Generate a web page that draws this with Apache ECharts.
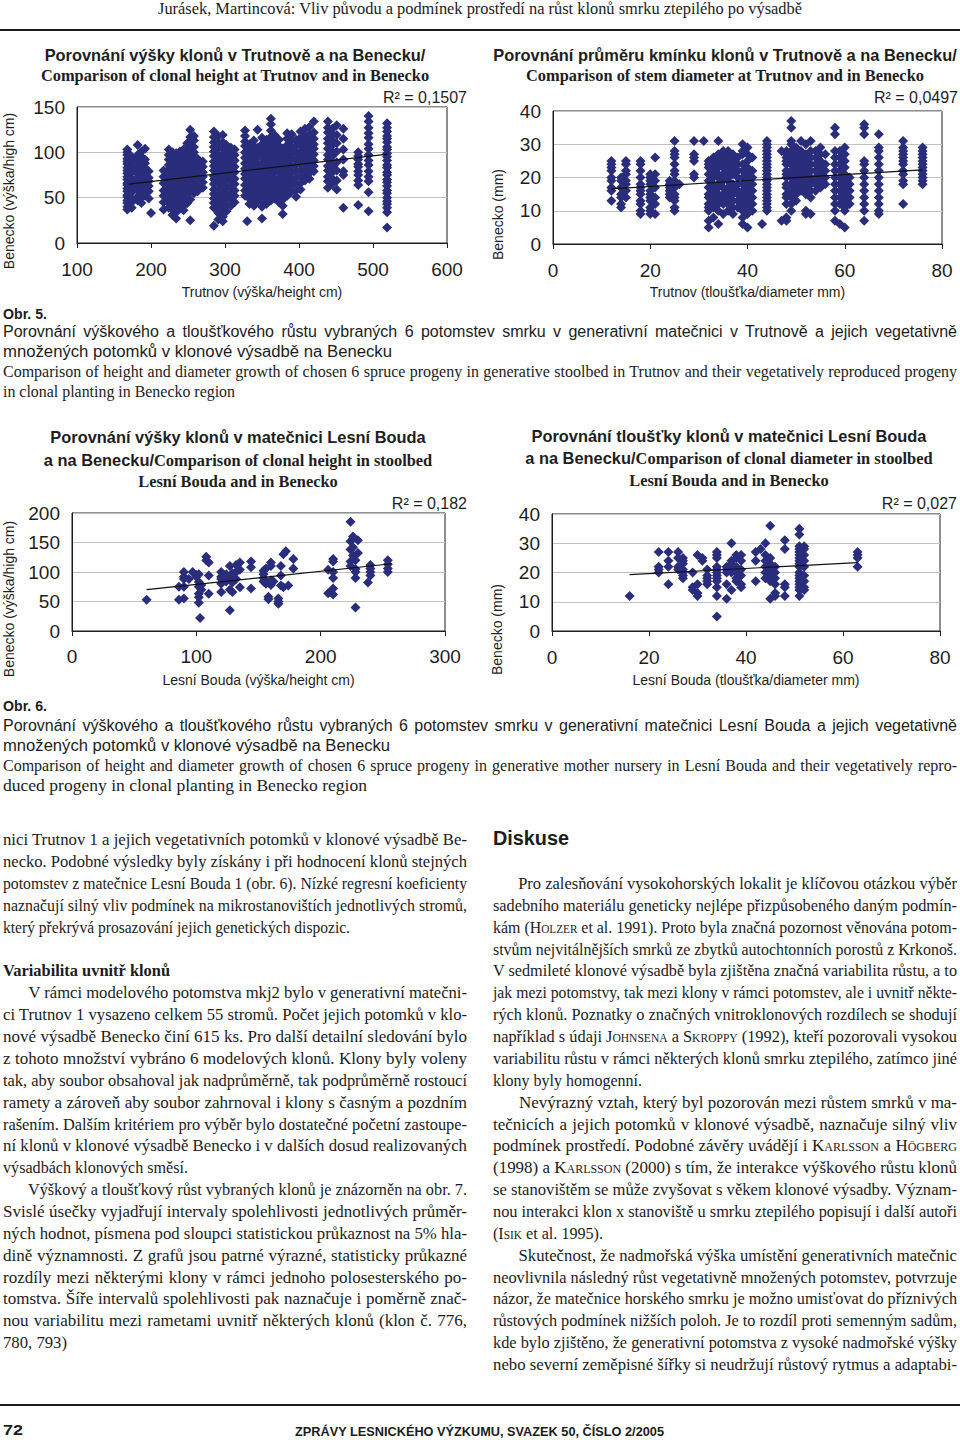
<!DOCTYPE html>
<html>
<head>
<meta charset="utf-8">
<script src="https://cdn.jsdelivr.net/npm/echarts/dist/echarts.min.js"></script>
<style>
  html, body { margin:0; padding:0; background:#fff; }
  #page { position:relative; width:960px; height:1440px; overflow:hidden; background:#fff; }
  #chart { position:absolute; left:0; top:0; width:960px; height:1440px; }
  .ln { position:absolute; white-space:nowrap; color:#1c1c1c; transform-origin:0 50%; line-height:1.15; }
  .serif { font-family:'Liberation Serif','Times New Roman',serif; font-size:17px; }
  .cap-en { font-family:'Liberation Serif','Times New Roman',serif; font-size:16px; }
  .sans { font-family:'Liberation Sans',Arial,sans-serif; font-size:16px; }
  .bold { font-weight:bold; }
  .ind { padding-left:26px; }
  .sc { font-variant:small-caps; }
  .rule { position:absolute; left:0; width:960px; height:2px; background:#1c1c1c; }
</style>
</head>
<body>
<div id="page">
  <div id="chart"></div>
  <div class="rule" style="top:29px"></div>
  <div class="rule" style="top:1404px"></div>
</div>
<script>
// ---------------- DATA ----------------
// Obr. 5 left: Trutnov height (x) vs Benecko height (y); columns [x, [y...]]
const trutnovHeightCols = [
 [168,[37,40,44,47,51,53,57,60,64,66,70,73,77,80,83,87,90,93,97,100,103]],
 [174,[39,45,49,56,62,68,71,78,85,91,95]],
 [182,[47,51,58,63,67,72,76,81,84,89,93,97,108]],
 [187,[44,50,54,59,62,66,71,75,79,86,90,95,101]],
 [192,[52,56,61,65,70,74,78,83,88,92,104]],
 [197,[49,57,63,68,72,79]],
 [200,[33]],
 [217,[37,45,52,58,66,73,80]],
 [224,[39,44,49,55,60,64,69,75,81,86,92,97,103]],
 [229,[31,37,41,47,53,58,62,68,73,77,83,89,94,100]],
 [234,[27,34,40,45,51,56,62,66,71,77,82,88,93,99]],
 [239,[38,43,49,54,60,65,70,74,80,86,91,96,101]],
 [244,[36,41,46,52,57,63,68,73,79,84,90,95,103]],
 [249,[44,50,55,61,66,72,77,82,88,93,99,105,110]],
 [253,[25,48,57,64,71,78,86,94,101,109,117,125]],
 [258,[55,60,66,72,77,83,89,95,100,106,113,118]],
 [263,[57,63,69,75,80,86,93]],
 [270,[61,67,73,78,84,90]],
 [285,[19,39,44,49,54,59,65,70,74,80,85,90,96,101,106,111,117,123]],
 [291,[26,33,39,46,53,59,66,72,79,85,92,98,105,111,118]],
 [297,[24,29,36,43,50,57,63,70,77,83,90,97,104,111,119]],
 [302,[35,42,49,55,62,69,75,82,89,95,101,108]],
 [308,[41,48,55,61,68,74,81,87,94,100,105]],
 [313,[45,52,58,65,71,78,84,91,97,103]],
 [327,[52,58,64,71,76,82,88,94,100,107,112,118,124]],
 [330,[24]],
 [333,[43,49,55,61,67,73,80,86,91,97,104,109]],
 [339,[41,47,54,59,65,71,78,83,90,95,102,107,113]],
 [344,[46,51,57,63,69,76,81,87,94,99,105,125]],
 [350,[27,40,46,53,61,67,74,81,88,96,102,109,116]],
 [356,[43,50,58,64,71,78,85,92,99,106,114]],
 [362,[47,54,61,69,76,82,90,96,103,111,117,124,131,137]],
 [367,[49,56,63,70,78,84,91,98,105,112,119]],
 [373,[45,51,58,66,72,79,86,93,100,107,114]],
 [378,[32,41,48,55,63,69,76,83,90,97,104]],
 [384,[52,59,66,73,80,87,94,101,108,115,121]],
 [390,[57,64,71,78,85,92,99,106,113,120]],
 [396,[51,58,65,72,79,86,93,100,107,114]],
 [402,[59,66,73,80,88,95,101,109,116,123]],
 [408,[69,75,82,88,93,100,106,111,118,126]],
 [414,[71,77,84,90,95,102,107,113,120,128]],
 [420,[79,85,91,98,104,109,115,122,134]],
 [439,[61,68,73,80,85,92,97,104,110,115,122,127,134]],
 [445,[65,71,78,84,89,96,101,108,113,120,126]],
 [451,[59,69,80,89,101,110,119,130]],
 [460,[39,75,79,92,103,115,126]],
 [480,[42,64,69,75,79,84,87,92,96,100]],
 [494,[35,56,68,73,79,86,91,97,104,109,116,121,127,134,140]],
 [519,[17,34,39,43,46,50,55,58,63,67,70,75,78,83,86,91,95,99,103,106,111,115,118,123,127,132]]
];
const trutnovHeightTrend = [[170,65],[520,98]];

// Obr. 5 right: Trutnov diameter (x) vs Benecko diameter (y)
const trutnovDiamCols = [
 [12,[13,16,17,19,20,22,23,24,25]],
 [14,[11,12,14,15,17,19,20]],
 [15,[14,16,18,19,21,22,24,25]],
 [18,[9,10,12,13,15,16,17,18,20,22,24,25]],
 [20,[9,10,11,13,14,15,16,18,19,20,21]],
 [21,[9,12,14,17,19,21,26]],
 [24,[14,15,16,17,18,19]],
 [25,[10,11,13,14,15,17,18,19,21,22,24,26,27,28,31]],
 [26,[18]],
 [29,[20,21,25,26,27,31]],
 [31,[31]],
 [32,[5,7,10,11,12,14,15,17,19,21,23,24,25]],
 [33,[8,11,13,14,16,18,20,22,23,25,26]],
 [34,[6,10,12,14,15,17,18,20,21,23,24,26,27,31]],
 [35,[9,12,13,15,17,19,21,23,25,27,28]],
 [36,[10,12,14,16,17,19,20,22,24,26,28]],
 [37,[9,11,13,15,17,18,21,23,25,27]],
 [38,[11,13,15,16,18,20,22,24,26]],
 [39,[6,8,10,12,14,16,18,20,22,24,27,28,30]],
 [40,[5,9,11,13,15,17,19,21,23,25,27,29]],
 [41,[10,12,14,16,18,20,22,26]],
 [43,[6]],
 [44,[10,11,12,13,14,15,16,17,18,19,20,21,22,23,24,25,26,27,28,29,30,31]],
 [47,[7,28]],
 [48,[7,8,12,14,15,17,18,20,21,22,24,25,26,27,28]],
 [49,[10,12,14,16,18,20,22,24,26,28,30,31,35,37]],
 [50,[13,15,17,19,21,23,25,27,29]],
 [51,[16,18,20,22,24,26,28,31]],
 [52,[9,10,15,17,19,21,23,25,27,30]],
 [53,[9,14,16,18,20,22,24,26,28,31]],
 [54,[16,18,19,20,22,24,26,28]],
 [55,[17,19,21,23,25,27,29]],
 [56,[18,20,22,24,27]],
 [58,[7,10,12,14,16,18,20,22,24,26,28,33,35]],
 [59,[6,12,14,16,18,20,22,24,26,28]],
 [60,[5,10,11,13,15,17,19,21,23,25,27,29]],
 [61,[12,14,16,18,20]],
 [64,[7,10,12,14,16,18,20,22,24,25,33,35,36]],
 [67,[9,10,12,14,16,18,20,22,24,26,28,29,33]],
 [72,[12,18,19,21,22,24,25,26,27,28,29,31]],
 [76,[18,19,20,21,22,23,24,25,26,27,28,29]]
];
const trutnovDiamTrend = [[12,16.6],[76,22.3]];

// Obr. 6 left: Lesní Bouda height (x) vs Benecko height (y)
const boudaHeightPts = [
 [60,53],[86,75],[86,53],[90,100],[90,92],[90,88],[90,75],[90,55],[94,88],[97,100],
 [100,95],[100,92],[102,96],[102,83],[102,75],[102,63],[102,57],[102,48],[103,22],[104,78],
 [104,70],[108,126],[108,120],[110,116],[110,94],[110,63],[120,100],[120,92],[120,88],[120,80],
 [120,66],[124,96],[124,84],[127,110],[127,92],[127,70],[127,35],[129,98],[129,82],[129,66],
 [132,112],[132,100],[132,88],[135,116],[135,104],[135,74],[144,118],[144,108],[144,72],[154,102],
 [154,96],[154,90],[154,84],[156,106],[156,80],[158,58],[158,54],[160,116],[160,110],[160,86],
 [160,78],[162,84],[166,55],[166,50],[166,46],[168,110],[168,94],[168,77],[170,130],[170,74],
 [172,135],[174,77],[178,122],[178,106],[206,104],[206,64],[208,66],[210,122],[210,118],[210,100],
 [210,90],[210,72],[210,62],[224,185],[224,152],[224,138],[224,118],[224,110],[226,160],[226,142],
 [226,128],[228,120],[228,105],[228,100],[228,90],[228,40],[230,132],[230,154],[238,82],[240,112],
 [240,106],[240,100],[240,94],[254,120],[254,113],[254,106],[254,100]
];
const boudaHeightTrend = [[60,70],[257,114]];

// Obr. 6 right: Lesní Bouda diameter (x) vs Benecko diameter (y)
const boudaDiamPts = [
 [16,12],[22,27],[22,22],[22,21],[22,20],[24,27],[24,24],[24,22],[24,16],[26,27],
 [26,25],[26,22],[26,21],[27,25],[27,24],[27,23],[27,21],[27,20],[27,19],[27,18],
 [29,20],[29,15],[29,14],[30,26],[30,16],[30,13],[30,12],[31,25],[31,24],[32,21],
 [32,19],[32,18],[32,17],[32,16],[34,27],[34,26],[34,25],[34,22],[34,21],[34,20],
 [34,19],[34,18],[34,17],[34,15],[34,12],[34,5],[36,22],[36,21],[36,20],[36,16],
 [36,11],[37,30],[37,24],[37,23],[37,22],[37,21],[37,20],[37,14],[38,26],[38,25],
 [38,22],[38,20],[38,18],[38,17],[39,26],[39,24],[39,21],[39,19],[39,16],[39,15],
 [42,27],[42,24],[42,17],[43,28],[44,30],[44,26],[44,24],[44,22],[44,20],[44,18],
 [45,36],[45,25],[45,23],[45,21],[45,19],[45,17],[45,11],[46,22],[46,20],[46,18],
 [46,16],[46,13],[46,12],[48,31],[48,28],[48,16],[48,15],[48,12],[51,35],[51,33],
 [51,29],[51,28],[51,27],[51,26],[51,25],[51,24],[51,23],[51,22],[51,20],[51,19],
 [51,18],[51,17],[51,16],[51,15],[51,14],[51,12],[52,29],[52,28],[52,26],[52,24],
 [52,22],[52,19],[52,17],[52,15],[52,14],[63,27],[63,26],[63,25],[63,22]
];
const boudaDiamTrend = [[16,19.3],[63,23.4]];

const rSquared = ['R² = 0,1507', 'R² = 0,0497', 'R² = 0,182', 'R² = 0,027'];

// ---------------- CHART ----------------
const SANS = "'Liberation Sans', Arial, sans-serif";
const SERIF = "'Liberation Serif', 'Times New Roman', serif";
const INK = '#1e1e1e';
const DOT = '#2a2d7c';

function flat(cols){ const out=[]; cols.forEach(c => c[1].forEach(y => out.push([c[0], y]))); return out; }

const grids = [
  {left:77,  top:107, width:370, height:136},
  {left:553, top:111, width:389, height:133},
  {left:72,  top:513, width:373, height:118},
  {left:552, top:514, width:388, height:117}
].map(g => Object.assign({show:true, borderColor:INK, borderWidth:1, backgroundColor:'transparent'}, g));

function xAx(i, min, max, step, name, gap, margin){
  return {gridIndex:i, type:'value', min:min, max:max, interval:step, name:name,
    nameLocation:'middle', nameGap:gap,
    nameTextStyle:{fontFamily:SANS, fontSize:14, color:INK},
    axisLine:{show:true, onZero:false, lineStyle:{color:INK, width:1}},
    axisTick:{show:true, length:5, lineStyle:{color:INK}},
    axisLabel:{fontFamily:SANS, fontSize:19, color:INK, margin:margin},
    splitLine:{show:false}};
}
function yAx(i, min, max, step, name, gap, shift){
  return {gridIndex:i, type:'value', min:min, max:max, interval:step, name:name,
    nameLocation:'middle', nameGap:gap,
    nameTextStyle:{fontFamily:SANS, fontSize:14, color:INK, padding:[0, 2*shift, 0, 0]},
    axisLine:{show:true, onZero:false, lineStyle:{color:INK, width:1}},
    axisTick:{show:false},
    axisLabel:{fontFamily:SANS, fontSize:19, color:INK, margin:12},
    splitLine:{show:true, lineStyle:{color:'#c2c2c2', width:1}}};
}
function scatter(i, data, size){
  return {type:'scatter', xAxisIndex:i, yAxisIndex:i, data:data, symbol:'diamond',
    symbolSize:size, itemStyle:{color:DOT, opacity:1}, silent:true, animation:false};
}
function trend(i, data){
  return {type:'line', xAxisIndex:i, yAxisIndex:i, data:data, symbol:'none', z:5,
    lineStyle:{color:'#111', width:1.2}, silent:true, animation:false};
}
function txt(x, y, text, opts){
  return {type:'text', x:x, y:y, silent:true, style:Object.assign({text:text, fill:INK,
    align:'center', verticalAlign:'middle', textAlign:'center', textVerticalAlign:'middle'}, opts)};
}
const sansB = {fontFamily:SANS, fontWeight:'bold', fontSize:16.4};
const serifB = {fontFamily:SERIF, fontWeight:'bold', fontSize:16.4};
const mixed = (a, b) => ({text:'{s|' + a + '}{r|' + b + '}', rich:{s:Object.assign({}, sansB, {fill:INK}), r:Object.assign({}, serifB, {fill:INK})}});
const rStyle = {fontFamily:SANS, fontSize:16, align:'right', textAlign:'right'};

const option = {
  animation:false,
  grid:grids,
  xAxis:[
    xAx(0, 100, 600, 100, 'Trutnov (výška/height cm)', 42, 17),
    xAx(1, 0, 80, 20, 'Trutnov (tloušťka/diameter mm)', 41, 17),
    xAx(2, 0, 300, 100, 'Lesní Bouda (výška/height cm)', 42, 16),
    xAx(3, 0, 80, 20, 'Lesní Bouda (tloušťka/diameter mm)', 42, 17)
  ],
  yAxis:[
    yAx(0, 0, 150, 50, 'Benecko (výška/high cm)', 61, 16),
    yAx(1, 0, 40, 10, 'Benecko (mm)', 48, 37),
    yAx(2, 0, 200, 50, 'Benecko (výška/high cm)', 56, 27),
    yAx(3, 0, 40, 10, 'Benecko (mm)', 48, 57)
  ],
  series:[
    scatter(0, flat(trutnovHeightCols), 10), trend(0, trutnovHeightTrend),
    scatter(1, flat(trutnovDiamCols), 10), trend(1, trutnovDiamTrend),
    scatter(2, boudaHeightPts, 10), trend(2, boudaHeightTrend),
    scatter(3, boudaDiamPts, 10), trend(3, boudaDiamTrend)
  ],
  graphic:[
    txt(235, 55, 'Porovnání výšky klonů v Trutnově a na Benecku/', sansB),
    txt(235, 75, 'Comparison of clonal height at Trutnov and in Benecko', serifB),
    txt(467, 97, rSquared[0], rStyle),
    txt(725, 55, 'Porovnání průměru kmínku klonů v Trutnově a na Benecku/', sansB),
    txt(725, 75, 'Comparison of stem diameter at Trutnov and in Benecko', serifB),
    txt(958, 97, rSquared[1], rStyle),
    txt(238, 437, 'Porovnání výšky klonů v matečnici Lesní Bouda', sansB),
    txt(238, 460, '', mixed('a na Benecku/', 'Comparison of clonal height in stoolbed')),
    txt(238, 481, 'Lesní Bouda and in Benecko', serifB),
    txt(467, 503, rSquared[2], rStyle),
    txt(729, 436, 'Porovnání tloušťky klonů v matečnici Lesní Bouda', sansB),
    txt(729, 458, '', mixed('a na Benecku/', 'Comparison of clonal diameter in stoolbed')),
    txt(729, 480, 'Lesní Bouda and in Benecko', serifB),
    txt(957, 503, rSquared[3], rStyle)
  ]
};
const chart = echarts.init(document.getElementById('chart'), null, {renderer:'svg', width:960, height:1440});
chart.setOption(option);

// ---------------- PAGE TEXT ----------------
// [x, yCenter, width, mode(j=justify, s=scale to width), classes, html]
const LH = 21.87, Y0 = 840;
const L = (i) => Y0 + i * LH;
const lines = [
  [158, 9, 644, 'j', 'serif hdr', 'Jurásek, Martincová: Vliv původu a podmínek prostředí na růst klonů smrku ztepilého po výsadbě'],
  [3, 314, 44, 's', 'sans bold', 'Obr. 5.'],
  [3, 332, 954, 'j', 'sans', 'Porovnání výškového a tloušťkového růstu vybraných 6 potomstev smrku v generativní matečnici v Trutnově a jejich vegetativně'],
  [3, 352, 389, 's', 'sans', 'množených potomků v klonové výsadbě na Benecku'],
  [3, 372, 954, 'j', 'cap-en', 'Comparison of height and diameter growth of chosen 6 spruce progeny in generative stoolbed in Trutnov and their vegetatively reproduced progeny'],
  [3, 392, 232, 's', 'cap-en', 'in clonal planting in Benecko region'],
  [3, 706, 44, 's', 'sans bold', 'Obr. 6.'],
  [3, 726, 954, 'j', 'sans', 'Porovnání výškového a tloušťkového růstu vybraných 6 potomstev smrku v generativní matečnici Lesní Bouda a jejich vegetativně'],
  [3, 746, 387, 's', 'sans', 'množených potomků v klonové výsadbě na Benecku'],
  [3, 766, 954, 'j', 'cap-en', 'Comparison of height and diameter growth of chosen 6 spruce progeny in generative mother nursery in Lesní Bouda and their vegetatively repro-'],
  [3, 786, 364, 's', 'cap-en', 'duced progeny in clonal planting in Benecko region'],
  // left column
  [3, L(0), 464, 'j', 'serif', 'nici Trutnov 1 a jejich vegetativních potomků v klonové výsadbě Be-'],
  [3, L(1), 464, 'j', 'serif', 'necko. Podobné výsledky byly získány i při hodnocení klonů stejných'],
  [3, L(2), 464, 'j', 'serif', 'potomstev z matečnice Lesní Bouda 1 (obr. 6). Nízké regresní koeficienty'],
  [3, L(3), 464, 'j', 'serif', 'naznačují silný vliv podmínek na mikrostanovištích jednotlivých stromů,'],
  [3, L(4), 347, 's', 'serif', 'který překrývá prosazování jejich genetických dispozic.'],
  [3, L(6), 167, 's', 'serif bold', 'Variabilita uvnitř klonů'],
  [3, L(7), 464, 'j', 'serif ind', 'V rámci modelového potomstva mkj2 bylo v generativní matečni-'],
  [3, L(8), 464, 'j', 'serif', 'ci Trutnov 1 vysazeno celkem 55 stromů. Počet jejich potomků v klo-'],
  [3, L(9), 464, 'j', 'serif', 'nové výsadbě Benecko činí 615 ks. Pro další detailní sledování bylo'],
  [3, L(10), 464, 'j', 'serif', 'z tohoto množství vybráno 6 modelových klonů. Klony byly voleny'],
  [3, L(11), 464, 'j', 'serif', 'tak, aby soubor obsahoval jak nadprůměrně, tak podprůměrně rostoucí'],
  [3, L(12), 464, 'j', 'serif', 'ramety a zároveň aby soubor zahrnoval i klony s časným a pozdním'],
  [3, L(13), 464, 'j', 'serif', 'rašením. Dalším kritériem pro výběr bylo dostatečné početní zastoupe-'],
  [3, L(14), 464, 'j', 'serif', 'ní klonů v klonové výsadbě Benecko i v dalších dosud realizovaných'],
  [3, L(15), 185, 's', 'serif', 'výsadbách klonových směsí.'],
  [3, L(16), 464, 'j', 'serif ind', 'Výškový a tloušťkový růst vybraných klonů je znázorněn na obr. 7.'],
  [3, L(17), 464, 'j', 'serif', 'Svislé úsečky vyjadřují intervaly spolehlivosti jednotlivých průměr-'],
  [3, L(18), 464, 'j', 'serif', 'ných hodnot, písmena pod sloupci statistickou průkaznost na 5% hla-'],
  [3, L(19), 464, 'j', 'serif', 'dině významnosti. Z grafů jsou patrné výrazné, statisticky průkazné'],
  [3, L(20), 464, 'j', 'serif', 'rozdíly mezi některými klony v rámci jednoho polosesterského po-'],
  [3, L(21), 464, 'j', 'serif', 'tomstva. Šíře intervalů spolehlivosti pak naznačuje i poměrně znač-'],
  [3, L(22), 464, 'j', 'serif', 'nou variabilitu mezi rametami uvnitř některých klonů (klon č. 776,'],
  [3, L(23), 64, 's', 'serif', '780, 793)'],
  // right column
  [493, 838, 76, 's', 'sans bold dis', 'Diskuse'],
  [493, L(2), 464, 'j', 'serif ind', 'Pro zalesňování vysokohorských lokalit je klíčovou otázkou výběr'],
  [493, L(3), 464, 'j', 'serif', 'sadebního materiálu geneticky nejlépe přizpůsobeného daným podmín-'],
  [493, L(4), 464, 'j', 'serif', 'kám (<span class="sc">Holzer</span> et al. 1991). Proto byla značná pozornost věnována potom-'],
  [493, L(5), 464, 'j', 'serif', 'stvům nejvitálnějších smrků ze zbytků autochtonních porostů z Krkonoš.'],
  [493, L(6), 464, 'j', 'serif', 'V sedmileté klonové výsadbě byla zjištěna značná variabilita růstu, a to'],
  [493, L(7), 464, 'j', 'serif', 'jak mezi potomstvy, tak mezi klony v rámci potomstev, ale i uvnitř někte-'],
  [493, L(8), 464, 'j', 'serif', 'rých klonů. Poznatky o značných vnitroklonových rozdílech se shodují'],
  [493, L(9), 464, 'j', 'serif', 'například s údaji <span class="sc">Johnsena</span> a <span class="sc">Skroppy</span> (1992), kteří pozorovali vysokou'],
  [493, L(10), 464, 'j', 'serif', 'variabilitu růstu v rámci některých klonů smrku ztepilého, zatímco jiné'],
  [493, L(11), 149, 's', 'serif', 'klony byly homogenní.'],
  [493, L(12), 464, 'j', 'serif ind', 'Nevýrazný vztah, který byl pozorován mezi růstem smrků v ma-'],
  [493, L(13), 464, 'j', 'serif', 'tečnicích a jejich potomků v klonové výsadbě, naznačuje silný vliv'],
  [493, L(14), 464, 'j', 'serif', 'podmínek prostředí. Podobné závěry uvádějí i <span class="sc">Karlsson</span> a <span class="sc">Högberg</span>'],
  [493, L(15), 464, 'j', 'serif', '(1998) a <span class="sc">Karlsson</span> (2000) s tím, že interakce výškového růstu klonů'],
  [493, L(16), 464, 'j', 'serif', 'se stanovištěm se může zvyšovat s věkem klonové výsadby. Význam-'],
  [493, L(17), 464, 'j', 'serif', 'nou interakci klon x stanoviště u smrku ztepilého popisují i další autoři'],
  [493, L(18), 110, 's', 'serif', '(<span class="sc">Isik</span> et al. 1995).'],
  [493, L(19), 464, 'j', 'serif ind', 'Skutečnost, že nadmořská výška umístění generativních matečnic'],
  [493, L(20), 464, 'j', 'serif', 'neovlivnila následný růst vegetativně množených potomstev, potvrzuje'],
  [493, L(21), 464, 'j', 'serif', 'názor, že matečnice horského smrku je možno umisťovat do příznivých'],
  [493, L(22), 464, 'j', 'serif', 'růstových podmínek nižších poloh. Je to rozdíl proti semenným sadům,'],
  [493, L(23), 464, 'j', 'serif', 'kde bylo zjištěno, že generativní potomstva z vysoké nadmořské výšky'],
  [493, L(24), 464, 'j', 'serif', 'nebo severní zeměpisné šířky si neudržují růstový rytmus a adaptabi-'],
  // footer
  [3, 1430, 20, 's', 'sans bold pg', '72'],
  [295, 1432, 369, 'j', 'sans bold ft', 'ZPRÁVY LESNICKÉHO VÝZKUMU, SVAZEK 50, ČÍSLO 2/2005']
];
const page = document.getElementById('page');
const els = lines.map(l => {
  const d = document.createElement('div');
  d.className = 'ln ' + l[4];
  d.innerHTML = l[5];
  d.style.left = l[0] + 'px';
  page.appendChild(d);
  return [d, l];
});
document.querySelectorAll('.hdr').forEach(e => e.style.fontSize = '17px');
document.querySelectorAll('.dis').forEach(e => e.style.fontSize = '20px');
document.querySelectorAll('.pg').forEach(e => e.style.fontSize = '15px');
document.querySelectorAll('.ft').forEach(e => e.style.fontSize = '13px');
document.querySelectorAll('.sans.bold').forEach(e => { if (!e.style.fontSize) e.style.fontSize = '15px'; });

function fit(){
  els.forEach(([d, l]) => {
    d.style.wordSpacing = '0px'; d.style.transform = 'none';
    const r = d.getBoundingClientRect();
    const w = r.width, W = l[2];
    d.style.top = (l[1] - r.height / 2) + 'px';
    if (l[3] === 'j') {
      const n = (d.textContent.match(/ /g) || []).length;
      if (w < W && n > 0) d.style.wordSpacing = ((W - w) / n) + 'px';
      else if (w > W) d.style.transform = 'scaleX(' + (W / w) + ')';
    } else {
      d.style.transform = 'scaleX(' + (W / w) + ')';
    }
  });
}
fit();
if (document.fonts && document.fonts.ready) document.fonts.ready.then(fit);
</script>
</body>
</html>
